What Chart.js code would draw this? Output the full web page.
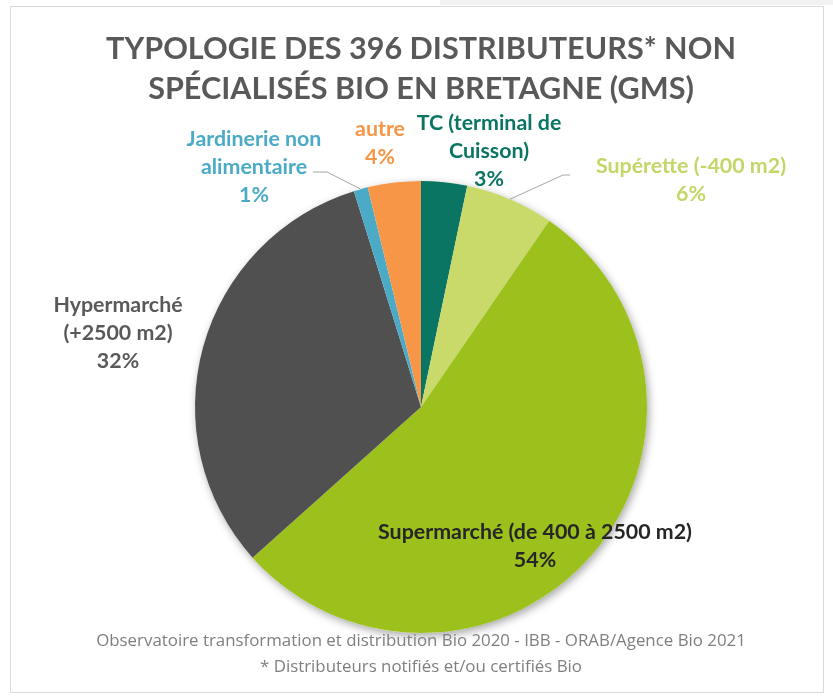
<!DOCTYPE html>
<html>
<head>
<meta charset="utf-8">
<script src="https://cdn.jsdelivr.net/npm/chart.js@4"></script>
<style>
  body { margin: 0; background: #fff; }
</style>
</head>
<body>
<canvas id="grafico" width="833" height="697"></canvas>
<script>
// données (396 distributeurs)
const categories = ['TC (terminal de Cuisson)', 'Supérette (-400 m2)', 'Supermarché (de 400 à 2500 m2)', 'Hypermarché (+2500 m2)', 'Jardinerie non alimentaire', 'autre']
const distributeurs = [13, 25, 213, 126, 4, 15]
const lignesEtiquettes = [
    ['TC (terminal de', 'Cuisson)'],
    ['Supérette (-400 m2)'],
    ['Supermarché (de 400 à 2500 m2)'],
    ['Hypermarché', '(+2500 m2)'],
    ['Jardinerie non', 'alimentaire'],
    ['autre']
]
const titre = ['TYPOLOGIE DES 396 DISTRIBUTEURS* NON', 'SPÉCIALISÉS BIO EN BRETAGNE (GMS)']
const sources = ['Observatoire transformation et distribution Bio 2020 - IBB - ORAB/Agence Bio 2021', '* Distributeurs notifiés et/ou certifiés Bio']

const couleurs = ['#0b7563', '#c9da6a', '#9cc11d', '#505050', '#4babc6', '#f79646']
const couleursTexte = ['#0b7563', '#c3d667', '#262626', '#595959', '#4babc6', '#f79646']
// position de la première ligne de chaque étiquette, par rapport au centre du camembert
const decalages = [[68, -284], [270, -241], [114, 125], [-303, -102], [-167, -268], [-41, -278]]
// traits de rappel : [index, départ, coude]
const traits = [[4, [-108, -235], [-94, -235]], [1, [149, -232], [142, -232]]]

const police = 'Lato, "Open Sans", sans-serif'
const policeSource = '"Open Sans", sans-serif'
const mesure = document.createElement('canvas').getContext('2d')
const ajuster = (texte, largeur, graisse, famille) => {
    mesure.font = `${graisse} 100px ${famille}`
    return 100 * largeur / mesure.measureText(texte).width
}
const tailleTitre = ajuster(titre[0], 630, 'bold', police)
const tailleEtiquette = ajuster(lignesEtiquettes[2][0], 314, 'bold', police)
const tailleSource = ajuster(sources[0], 650, 'normal', policeSource)

const total = distributeurs.reduce((a, b) => a + b, 0)

const cadre = {
    id: 'cadre',
    beforeDraw(chart) {
        const ctx = chart.ctx
        ctx.save()
        ctx.fillStyle = '#fff'
        ctx.fillRect(0, 0, chart.width, chart.height)
        ctx.fillStyle = '#f2f2f2'
        ctx.fillRect(440, 0, chart.width - 440, 5)
        ctx.strokeStyle = '#d9d9d9'
        ctx.lineWidth = 1
        ctx.strokeRect(10.5, 6.5, 813, 686)
        ctx.restore()
    },
    beforeDatasetsDraw(chart) {
        const arc = chart.getDatasetMeta(0).data[0]
        const ctx = chart.ctx
        ctx.save()
        ctx.shadowColor = 'rgba(0,0,0,0.35)'
        ctx.shadowBlur = 8
        ctx.shadowOffsetX = 2
        ctx.shadowOffsetY = 3
        ctx.fillStyle = '#fff'
        ctx.beginPath()
        ctx.arc(arc.x, arc.y, arc.outerRadius, 0, Math.PI * 2)
        ctx.fill()
        ctx.restore()
    }
}

const etiquettes = {
    id: 'etiquettes',
    afterDatasetsDraw(chart) {
        const ctx = chart.ctx
        const arcs = chart.getDatasetMeta(0).data
        const cx = arcs[0].x
        const cy = arcs[0].y
        ctx.save()
        ctx.strokeStyle = '#a6a6a6'
        ctx.lineWidth = 1
        traits.forEach(([i, depart, coude]) => {
            const a = arcs[i]
            const milieu = (a.startAngle + a.endAngle) / 2
            ctx.beginPath()
            ctx.moveTo(cx + depart[0], cy + depart[1])
            ctx.lineTo(cx + coude[0], cy + coude[1])
            ctx.lineTo(cx + a.outerRadius * Math.cos(milieu), cy + a.outerRadius * Math.sin(milieu))
            ctx.stroke()
        })
        ctx.font = `bold ${tailleEtiquette}px ${police}`
        ctx.textAlign = 'center'
        ctx.textBaseline = 'middle'
        lignesEtiquettes.forEach((lignes, i) => {
            const pct = Math.round(distributeurs[i] / total * 100) + '%'
            const [dx, dy] = decalages[i]
            ctx.fillStyle = couleursTexte[i]
            lignes.concat(pct).forEach((l, j) => {
                ctx.fillText(l, cx + dx, cy + dy + j * 28)
            })
        })
        // sources en bas
        ctx.font = `${tailleSource}px ${policeSource}`
        ctx.fillStyle = '#7f7f7f'
        ctx.fillText(sources[0], cx, 641)
        ctx.fillText(sources[1], cx, 667)
        ctx.restore()
    }
}

new Chart(document.querySelector('#grafico'), {
    type: 'pie',
    data: {
        labels: categories,
        datasets: [{
            data: distributeurs,
            backgroundColor: couleurs,
            borderWidth: 0,
            hoverOffset: 0
        }]
    },
    options: {
        responsive: false,
        animation: false,
        layout: { padding: { left: 9, right: 0, top: 0, bottom: 64 } },
        plugins: {
            legend: { display: false },
            tooltip: { enabled: false },
            title: {
                display: true,
                text: titre,
                color: '#595959',
                font: { family: police, size: tailleTitre, weight: 'bold', lineHeight: 40 / tailleTitre },
                padding: { top: 29, bottom: 72 }
            }
        }
    },
    plugins: [cadre, etiquettes]
})
</script>
</body>
</html>
